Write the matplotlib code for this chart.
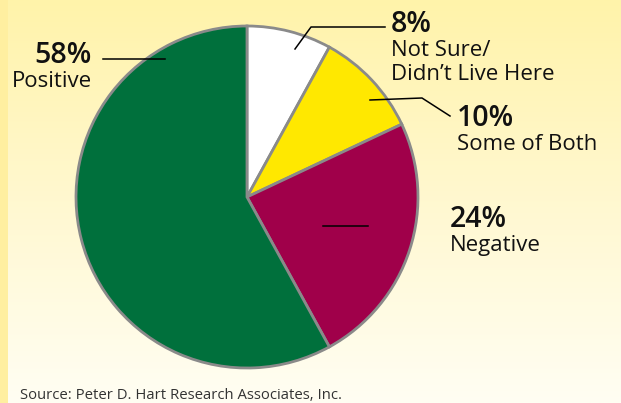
import numpy as np
import matplotlib
matplotlib.use("Agg")
import matplotlib.pyplot as plt
from matplotlib.colors import LinearSegmentedColormap

plt.rcParams['font.family'] = ['Open Sans', 'DejaVu Sans']

# survey shares, clockwise from 12 o'clock
categories = ["Not Sure/\nDidn\u2019t Live Here", "Some of Both", "Negative", "Positive"]
shares = [8, 10, 24, 58]
colors = ["#FFFFFF", "#FFE800", "#A0004A", "#00703C"]
source = "Source: Peter D. Hart Research Associates, Inc."

W, H = 621, 403
fig = plt.figure(figsize=(W / 100, H / 100), dpi=100)

# background: yellow fading to cream top->bottom, darker strip on the left
bg = fig.add_axes([0, 0, 1, 1])
bg.set_axis_off()
grad = LinearSegmentedColormap.from_list("bg", ["#FFF3AA", "#FFF8D0", "#FFFEF3"])
bg.imshow(np.linspace(0, 1, 256).reshape(-1, 1), aspect="auto", cmap=grad,
          extent=[0, W, H, 0])
bg.axvspan(0, 8, color="#FFEFA0", lw=0)
bg.set_xlim(0, W)
bg.set_ylim(H, 0)

# pie in pixel coordinates (y grows downward, so angles run mirrored)
ax = fig.add_axes([0, 0, 1, 1])
cx, cy, r = 247, 197, 171
ax.pie(shares, colors=colors, startangle=-90, counterclock=True,
       center=(cx, cy), radius=r, frame=True,
       wedgeprops=dict(edgecolor="#8A8A8A", linewidth=2))
ax.set_aspect("equal")
ax.set_xlim(0, W)
ax.set_ylim(H, 0)
ax.set_axis_off()

# leader lines
line_kw = dict(color="black", lw=1.1)
ax.plot([103, 165], [59, 59], **line_kw)
ax.plot([295, 311, 385], [49, 27, 27], **line_kw)
ax.plot([370, 422, 450], [100, 98, 116], **line_kw)
ax.plot([323, 368], [226, 226], **line_kw)

big = dict(fontsize=20.5, fontweight="semibold", color="#111111")
small = dict(fontsize=16, color="#111111")

ax.text(92, 63, f"{shares[3]}%", ha="right", va="baseline", **big)
ax.text(92, 87, categories[3], ha="right", va="baseline", **small)

ax.text(391, 32, f"{shares[0]}%", ha="left", va="baseline", **big)
ax.text(391, 56, "Not Sure/", ha="left", va="baseline", **small)
ax.text(391, 80, "Didn\u2019t Live Here", ha="left", va="baseline", **small)

ax.text(457, 126, f"{shares[1]}%", ha="left", va="baseline", **big)
ax.text(457, 150, categories[1], ha="left", va="baseline", **small)

ax.text(450, 227, f"{shares[2]}%", ha="left", va="baseline", **big)
ax.text(450, 251, categories[2], ha="left", va="baseline", **small)

ax.text(20, 399, source, ha="left", va="baseline", fontsize=10.7, color="#333333")

fig.savefig("out.png", dpi=100)
